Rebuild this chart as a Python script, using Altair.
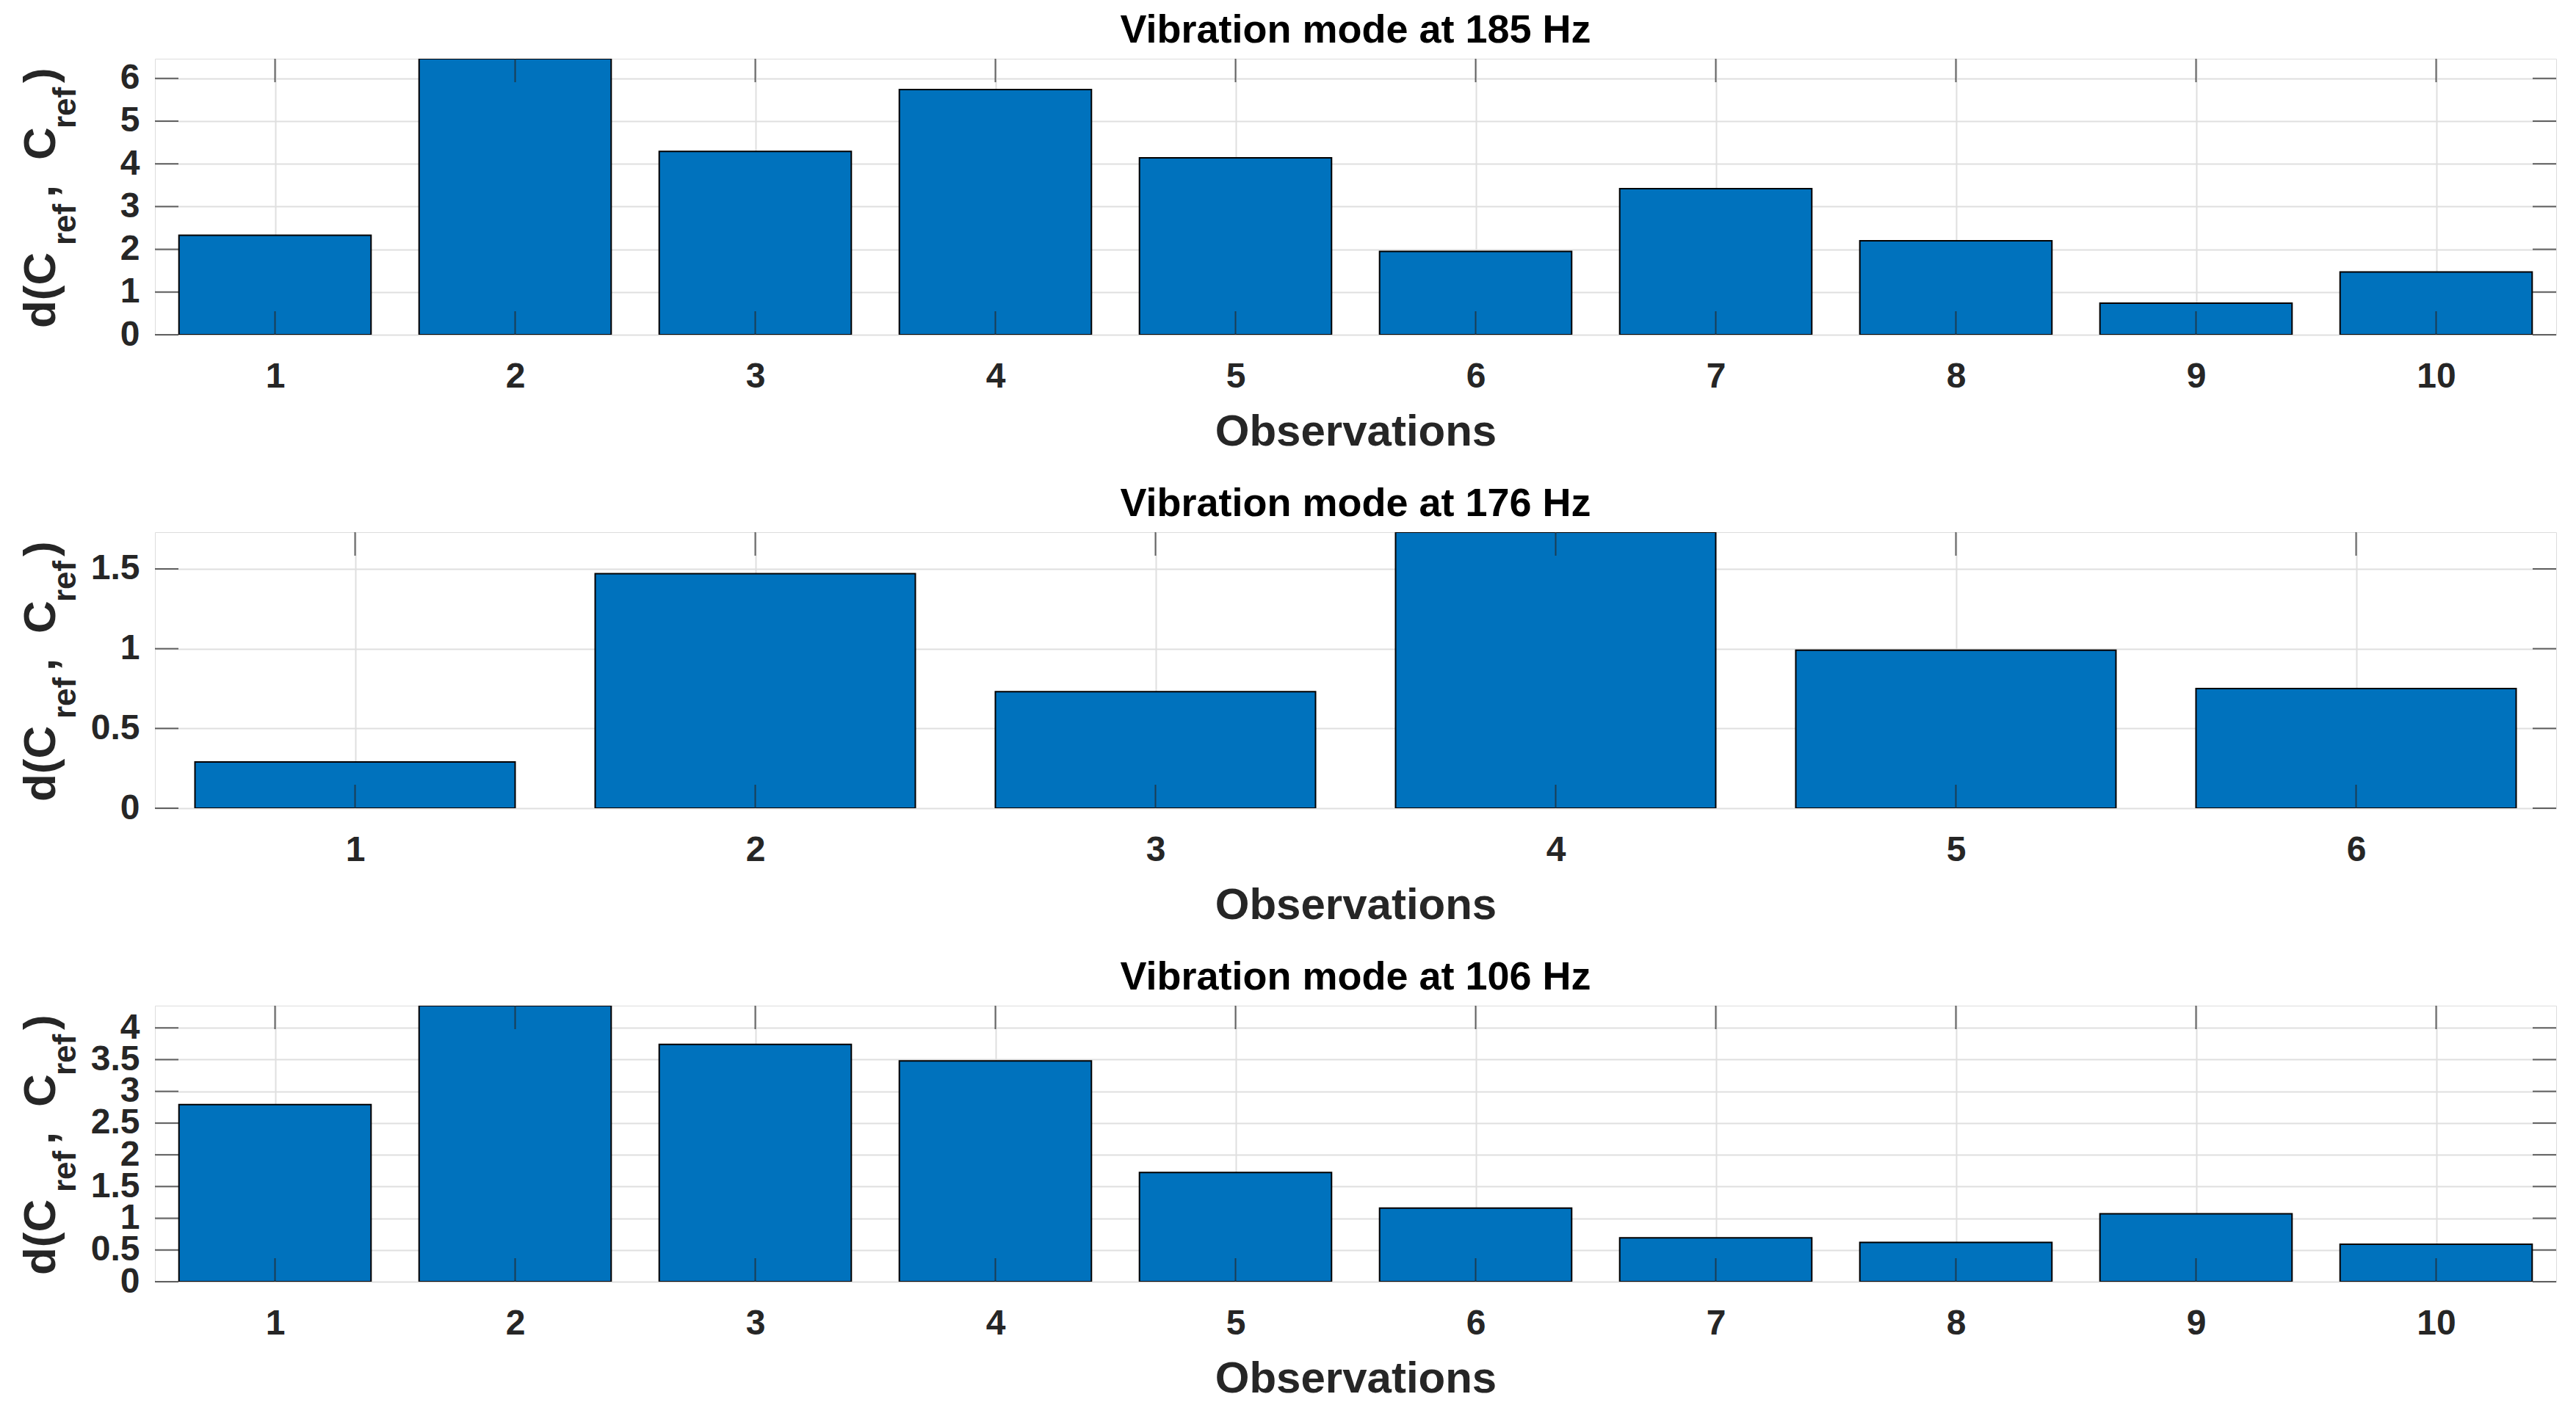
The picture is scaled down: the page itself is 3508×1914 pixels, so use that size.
import altair as alt
import pandas as pd

# ---------------- data ----------------
TITLES = ["Vibration mode at 185 Hz", "Vibration mode at 176 Hz", "Vibration mode at 106 Hz"]
X_LABEL = "Observations"

OBS_1 = [1, 2, 3, 4, 5, 6, 7, 8, 9, 10]
VAL_1 = [2.33, 6.46, 4.29, 5.74, 4.14, 1.95, 3.42, 2.20, 0.74, 1.47]
YMAX_1 = 6.46
YTICKS_1 = [0, 1, 2, 3, 4, 5, 6]

OBS_2 = [1, 2, 3, 4, 5, 6]
VAL_2 = [0.29, 1.47, 0.73, 1.73, 0.99, 0.75]
YMAX_2 = 1.73
YTICKS_2 = [0, 0.5, 1, 1.5]

OBS_3 = [1, 2, 3, 4, 5, 6, 7, 8, 9, 10]
VAL_3 = [2.79, 4.35, 3.74, 3.48, 1.72, 1.16, 0.69, 0.62, 1.07, 0.59]
YMAX_3 = 4.35
YTICKS_3 = [0, 0.5, 1, 1.5, 2, 2.5, 3, 3.5, 4]

# ---------------- styling ----------------
W, H = 3270, 376
FONT = "Liberation Sans"
INK = "#262626"
BAR = "#0072BD"
GRID = "#dfdfdf"
TICK_LEN = 32
LABEL_SIZE = 48


def ytitle_piece(text, x, y, size):
    return alt.Chart(pd.DataFrame({"t": [text]})).mark_text(
        angle=270, align="left", baseline="alphabetic", font=FONT,
        fontWeight="bold", fontSize=size, color=INK
    ).encode(text="t:N", x=alt.value(x), y=alt.value(y))


def panel(obs, vals, ymax, yticks, title):
    n = len(obs)
    df = pd.DataFrame({"obs": obs, "val": vals})
    xs = alt.Scale(domain=[0.5, n + 0.5], nice=False, zero=False)
    ys = alt.Scale(domain=[0, ymax], nice=False, zero=True)

    x_axis = alt.Axis(
        values=obs, format="d", grid=True, gridColor=GRID, gridWidth=2,
        ticks=False, tickSize=0, domain=False,
        labelFont=FONT, labelFontSize=LABEL_SIZE, labelFontWeight="bold", labelColor=INK,
        labelPadding=33, labelFlush=False,
        titleFont=FONT, titleFontSize=60, titleFontWeight="bold", titleColor=INK,
        titlePadding=22)
    y_axis = alt.Axis(
        values=yticks, format=".1~f", grid=True, gridColor=GRID, gridWidth=2,
        ticks=False, tickSize=0, domain=False, labelOverlap=False,
        labelFont=FONT, labelFontSize=LABEL_SIZE, labelFontWeight="bold", labelColor=INK,
        labelPadding=21, labelFlush=False)

    def X(field):
        return alt.X(field, scale=xs, title=X_LABEL, axis=x_axis)

    def Y(field):
        return alt.Y(field, scale=ys, title=None, axis=y_axis)

    bars = alt.Chart(df).transform_calculate(
        x0="datum.obs - 0.4", x1="datum.obs + 0.4", base="0"
    ).mark_bar(color=BAR, stroke="black", strokeWidth=2, clip=True).encode(
        x=X("x0:Q"), x2="x1:Q", y=Y("val:Q"), y2="base:Q",
    )

    ytick_df = pd.DataFrame({"val": yticks})
    xtick_df = pd.DataFrame({"x0": obs})
    tick_style = dict(size=TICK_LEN, thickness=2, color=INK)
    yl = alt.Chart(ytick_df).mark_tick(orient="horizontal", **tick_style).encode(
        y=Y("val:Q"), x=alt.value(TICK_LEN / 2))
    yr = alt.Chart(ytick_df).mark_tick(orient="horizontal", **tick_style).encode(
        y=Y("val:Q"), x=alt.value(W - TICK_LEN / 2))
    xb = alt.Chart(xtick_df).mark_tick(orient="vertical", **tick_style).encode(
        x=X("x0:Q"), y=alt.value(H - TICK_LEN / 2))
    xt = alt.Chart(xtick_df).mark_tick(orient="vertical", **tick_style).encode(
        x=X("x0:Q"), y=alt.value(TICK_LEN / 2))

    s = H / 2 + 179
    main_x, sub_x = -136.5, -108
    pieces = [
        ytitle_piece("d(C", main_x, s, 62),
        ytitle_piece("ref", sub_x, s - 113, 44),
        ytitle_piece(",", main_x, s - 178, 62),
        ytitle_piece("C", main_x, s - 229, 62),
        ytitle_piece("ref", sub_x, s - 272, 44),
        ytitle_piece(")", main_x, s - 334, 62),
    ]

    return alt.layer(bars, yl, yr, xb, xt, *pieces).properties(
        width=W, height=H,
        title=alt.TitleParams(title, font=FONT, fontSize=54, fontWeight="bold",
                              color="black", anchor="middle", baseline="bottom",
                              offset=-43),
    )


chart = alt.vconcat(
    panel(OBS_1, VAL_1, YMAX_1, YTICKS_1, TITLES[0]),
    panel(OBS_2, VAL_2, YMAX_2, YTICKS_2, TITLES[1]),
    panel(OBS_3, VAL_3, YMAX_3, YTICKS_3, TITLES[2]),
    spacing=40,
).properties(
    padding={"left": 16, "top": 6, "right": 5, "bottom": 5}
).configure_view(
    stroke=INK, strokeWidth=2.5
).configure(background="white")

chart.save("out.html", embed_options={"renderer": "svg", "actions": False})
